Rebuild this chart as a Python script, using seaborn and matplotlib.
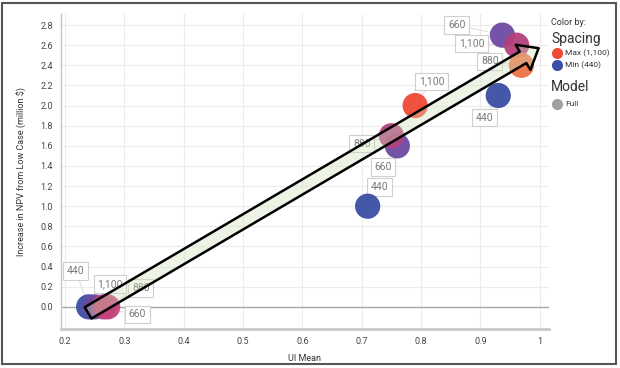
import numpy as np
import pandas as pd
import matplotlib
matplotlib.use('Agg')
import matplotlib.pyplot as plt
from matplotlib.patches import FancyArrowPatch, Rectangle
from matplotlib.lines import Line2D
import seaborn as sns

# data
spacing = ['440', '660', '880', '1,100',
           '440', '660', '880', '1,100',
           '440', '660', '1,100', '880']
ui_mean = [0.240, 0.250, 0.265, 0.272,
           0.710, 0.760, 0.750, 0.790,
           0.930, 0.937, 0.961, 0.969]
npv_increase = [0.0, 0.0, 0.0, 0.0,
                1.0, 1.6, 1.7, 2.0,
                2.1, 2.7, 2.6, 2.4]
point_colors = ['#3b4ea3', '#6a4aa0', '#b0427e', '#c4447a',
                '#3b4ea3', '#6e4aa2', '#b0427e', '#ef4a36',
                '#3b4ea3', '#6e4aa2', '#b4407c', '#ec7146']
# label box positions (data coords)
label_pos = [(0.2185, 0.355), (0.322, -0.075), (0.328, 0.186), (0.276, 0.226),
             (0.730, 1.19), (0.736, 1.39), (0.700, 1.62), (0.818, 2.24),
             (0.907, 1.88), (0.860, 2.80), (0.885, 2.62), (0.916, 2.44)]

df = pd.DataFrame({'ui': ui_mean, 'npv': npv_increase, 'spacing': spacing})
df['key'] = range(len(df))

sns.set_style('white')
plt.rcParams['font.family'] = ['Roboto', 'DejaVu Sans']

fig = plt.figure(figsize=(6.2, 3.68), dpi=100)
ax = fig.add_axes([0.098, 0.106, 0.787, 0.856])

ax.set_xlim(0.193, 1.015)
ax.set_ylim(-0.22, 2.91)
ax.set_xticks(np.arange(0.2, 1.01, 0.1))
ax.set_xticklabels(['0.2', '0.3', '0.4', '0.5', '0.6', '0.7', '0.8', '0.9', '1'])
ax.set_yticks(np.arange(0.0, 2.81, 0.2))
ax.set_yticklabels(['%.1f' % v for v in np.arange(0.0, 2.81, 0.2)])
ax.grid(True, color='#ececec', lw=0.8)
ax.set_axisbelow(True)
ax.axhline(0, color='#a8a8a8', lw=1.0, zorder=1)

for s in ['top', 'right']:
    ax.spines[s].set_visible(False)
ax.spines['left'].set_color('#c4c4c4')
ax.spines['left'].set_linewidth(1.0)
ax.spines['bottom'].set_color('#c8c8c8')
ax.spines['bottom'].set_linewidth(2.0)
ax.tick_params(axis='both', labelsize=6.5, colors='#444444', length=2.5,
               width=0.8, color='#bbbbbb', pad=3)

# label boxes with leader lines
for i, row in df.iterrows():
    ax.annotate(row['spacing'], xy=(row['ui'], row['npv']), xytext=label_pos[i],
                ha='center', va='center', fontsize=7.5, color='#7a7a7a', zorder=2,
                bbox=dict(boxstyle='square,pad=0.35', fc='white', ec='#cfcfcf', lw=0.8),
                arrowprops=dict(arrowstyle='-', color='#d8d8d8', lw=0.6,
                                shrinkA=0, shrinkB=0))

sns.scatterplot(data=df, x='ui', y='npv', hue='key',
                palette=dict(zip(df['key'], point_colors)),
                s=330, alpha=0.95, edgecolor='none', legend=False, ax=ax, zorder=3)
ax.set_xlabel('UI Mean', fontsize=6.5, color='#333333', labelpad=6)
ax.set_ylabel('Increase in NPV from Low Case (million $)', fontsize=6.5,
              color='#333333', labelpad=10)

# trend arrow
arrow = FancyArrowPatch((0.239, -0.06), (0.998, 2.57),
                        arrowstyle='simple,head_length=13,head_width=21,tail_width=9.5',
                        mutation_scale=1, shrinkA=0, shrinkB=0,
                        fc=(0.81, 0.886, 0.714, 0.35), ec='black', lw=1.8, zorder=5)
ax.add_patch(arrow)

# legend
fig.text(0.889, 0.94, 'Color by:', fontsize=6.5, color='#333333', va='center')
fig.text(0.889, 0.895, 'Spacing', fontsize=10, color='#333333', va='center')
leg_items = [(0.855, '#ef4a36', 'Max (1,100)'), (0.823, '#3b4ea3', 'Min (440)')]
for yy, col, txt in leg_items:
    fig.add_artist(Line2D([0.899], [yy], marker='o', ms=8, color=col, mec='none',
                          transform=fig.transFigure))
    fig.text(0.912, yy, txt, fontsize=6, color='#333333', va='center')
fig.text(0.889, 0.763, 'Model', fontsize=10, color='#333333', va='center')
fig.add_artist(Line2D([0.899], [0.717], marker='o', ms=8, color='#a0a0a0', mec='none',
                      transform=fig.transFigure))
fig.text(0.912, 0.717, 'Full', fontsize=6, color='#333333', va='center')

# outer frame
fig.add_artist(Rectangle((0.004, 0.011), 0.99, 0.981, transform=fig.transFigure,
                         fill=False, ec='#555555', lw=1.5))

plt.savefig('out.png', dpi=100)
